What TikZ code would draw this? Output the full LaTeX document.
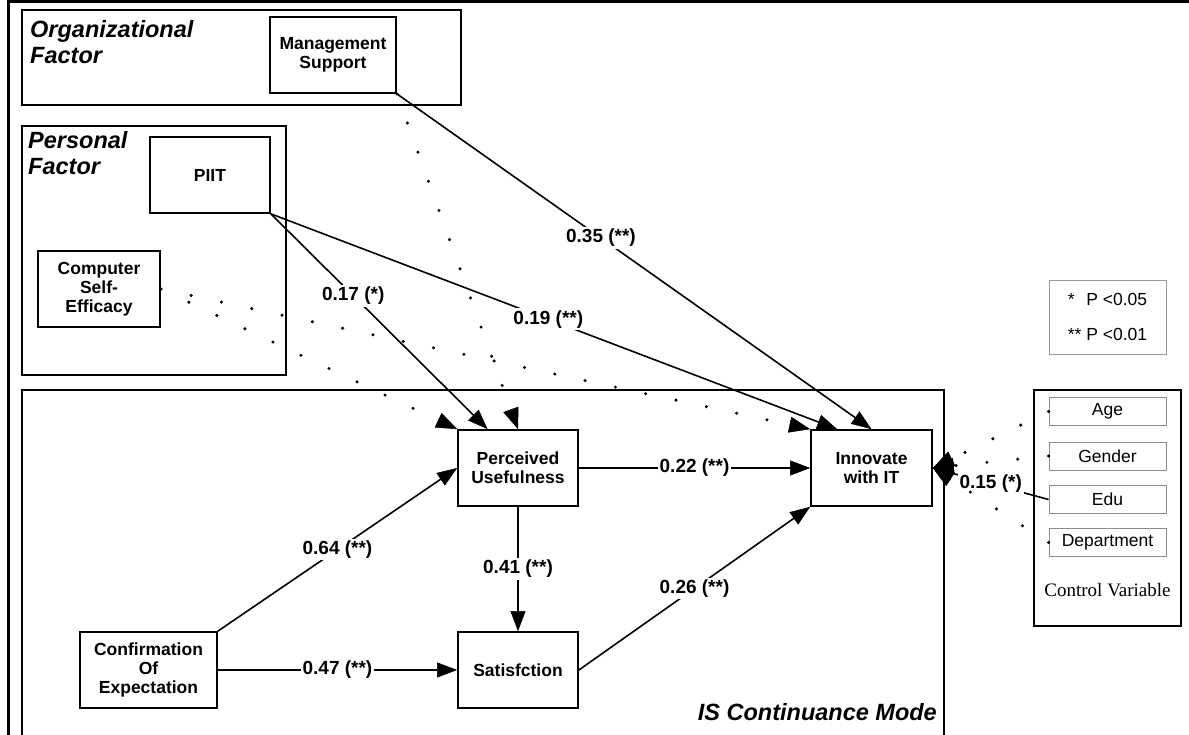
\documentclass[tikz,border=0pt]{standalone}
\usepackage{fontspec}
\setmainfont{Liberation Sans}
\newfontfamily\serifctl{Liberation Serif}
\usetikzlibrary{arrows.meta,calc}

\begin{document}
\begin{tikzpicture}[x=1pt,y=-1pt,
    grp/.style={draw,line width=1.5pt},
    cons/.style={draw,line width=1.7pt,minimum width=120pt,minimum height=76pt,align=center,inner sep=2pt,font=\fontsize{17.5}{19}\selectfont\bfseries},
    ctl/.style={draw=black!45,line width=0.9pt,minimum width=117pt,minimum height=28pt,inner sep=0pt,font=\fontsize{17.5}{20}\selectfont},
    ttl/.style={anchor=north west,inner sep=0pt,align=left,font=\fontsize{23.5}{26}\selectfont\bfseries\itshape},
    lbl/.style={fill=white,inner sep=2pt,font=\fontsize{19}{22}\selectfont\bfseries},
    eff/.style={line width=1.6pt,-{Triangle[length=20pt,width=15pt,line width=0.5pt]}},
    dotlink/.style={line width=3.4pt,line cap=round,dash pattern=on 0pt off 31pt,-{Triangle[length=21pt,width=16pt,line width=0.5pt]}}]
  \useasboundingbox (0,0) rectangle (1189,735);
  \draw[line width=3pt] (8,735) -- (8,2) -- (1189,2);

  \node[grp,minimum width=439pt,minimum height=95pt] (orgbox) at (241.5,57.5) {};
  \node[grp,minimum width=264pt,minimum height=249pt] (perbox) at (154,250.5) {};
  \draw[grp] (22,735) -- (22,390) -- (944,390) -- (944,735);
  \node[grp,minimum width=147pt,minimum height=236pt] (ctrlbox) at (1107.5,508) {};
  \node[draw=black!40,line width=0.9pt,minimum width=117pt,minimum height=74pt,align=left,inner sep=0pt,font=\fontsize{17.5}{19}\selectfont] (legend) at (1107.5,317) {*\phantom{*} P <0.05\\[16pt]** P <0.01};

  \node[ttl] (orgtitle) at (30,20) {Organizational\\Factor};
  \node[ttl] (pertitle) at (28,131) {Personal\\Factor};
  \node[ttl,anchor=base east] (istitle) at (937,720) {IS Continuance Mode};

  \node[cons,minimum width=126pt] (ms) at (333,55) {Management\\Support};
  \node[cons] (piit) at (210,175) {PIIT};
  \node[cons,minimum width=122pt] (cse) at (99,289) {Computer\\Self-\\Efficacy};
  \node[cons] (pu) at (518,468) {Perceived\\Usefulness};
  \node[cons,minimum width=121pt] (iit) at (871.5,468) {Innovate\\with IT};
  \node[cons,minimum width=137pt] (coe) at (148.5,670) {Confirmation\\Of\\Expectation};
  \node[cons] (sat) at (518,670) {Satisfction};

  \node[ctl] (age) at (1107.5,411.5) {Age};
  \node[ctl] (gender) at (1107.5,456) {Gender};
  \node[ctl] (edu) at (1107.5,499.5) {Edu};
  \node[ctl] (dept) at (1107.5,542.5) {Department};
  \node[font=\serifctl\fontsize{19}{22}\selectfont] (ctrltext) at (1107.5,590) {Control Variable};

  \draw[eff] (ms.south east) -- node[lbl,pos=0.43]{0.35 (**)} (iit.north);
  \draw[eff] (piit.south east) -- node[lbl,pos=0.38]{0.17 (*)} ($(pu.north west)!0.25!(pu.north east)$);
  \draw[eff] (piit.south east) -- node[lbl,pos=0.49]{0.19 (**)} ($(iit.north west)!0.22!(iit.north east)$);
  \draw[eff] (coe.north east) -- node[lbl]{0.64 (**)} (pu.west);
  \draw[eff] (coe) -- node[lbl]{0.47 (**)} (sat);
  \draw[eff] (pu) -- node[lbl]{0.41 (**)} (sat);
  \draw[eff] (pu) -- node[lbl]{0.22 (**)} (iit);
  \draw[eff] (sat.east) -- node[lbl]{0.26 (**)} (iit.south west);
  \draw[eff] (edu.west) -- node[lbl]{0.15 (*)} (iit.east);

  \draw[dotlink] (ms.south east) -- (pu.north);
  \draw[dotlink] (cse.east) -- (pu.north west);
  \draw[dotlink] (cse.east) -- (iit.north west);
  \foreach \c in {age,gender,dept}
    \draw[dotlink] (\c.west) -- (iit.east);
\end{tikzpicture}
\end{document}
